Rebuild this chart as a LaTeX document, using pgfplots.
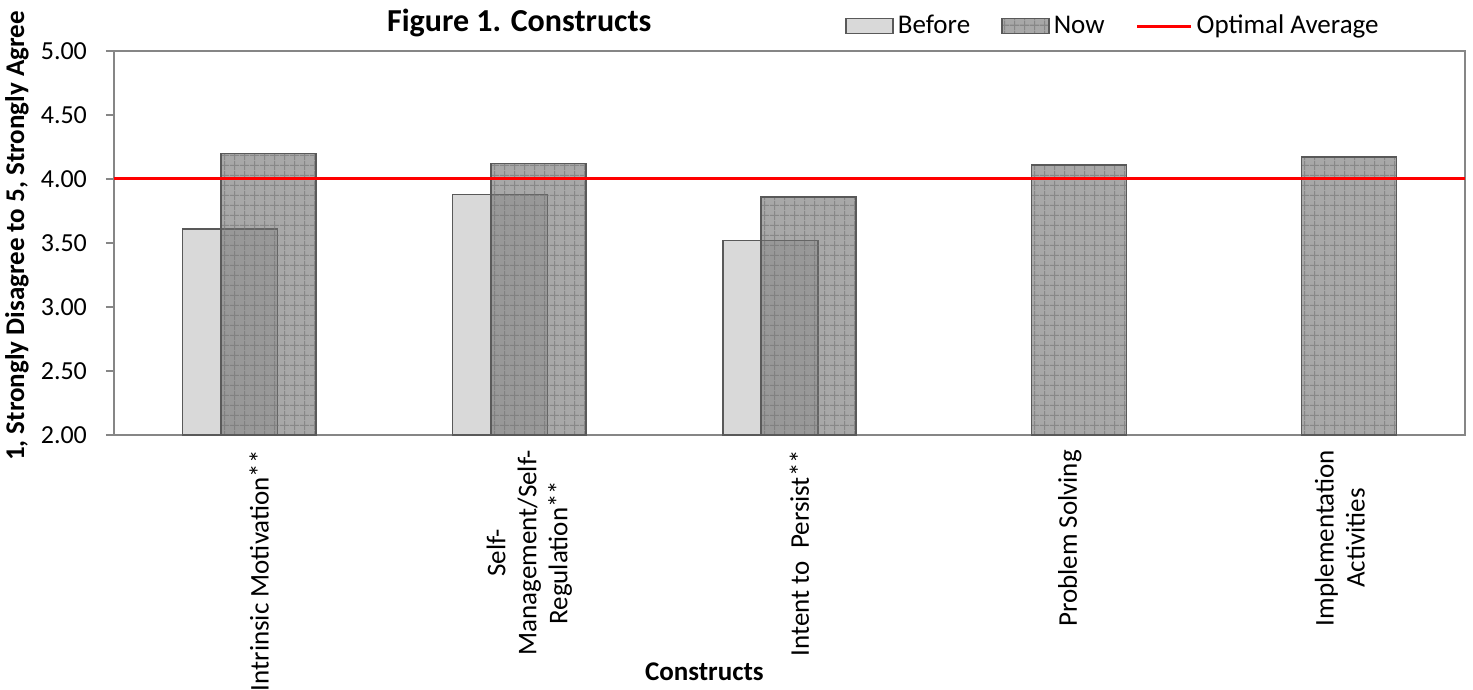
\documentclass[border=0pt]{standalone}
\usepackage{pgfplots}
\pgfplotsset{compat=1.18}
\usepackage{fontspec}
\setmainfont{Carlito}
\usetikzlibrary{patterns}
\definecolor{axgray}{RGB}{134,134,134}
\definecolor{edgegray}{RGB}{89,89,89}
\definecolor{beforefill}{RGB}{217,217,217}
\definecolor{nowfill}{RGB}{110,110,110}
\pgfdeclarepatternformonly{mygrid}{\pgfpointorigin}{\pgfpoint{5pt}{5pt}}{\pgfpoint{5pt}{5pt}}{%
  \pgfsetlinewidth{0.6pt}%
  \pgfpathmoveto{\pgfpoint{0pt}{2.5pt}}\pgfpathlineto{\pgfpoint{5pt}{2.5pt}}%
  \pgfpathmoveto{\pgfpoint{2.5pt}{0pt}}\pgfpathlineto{\pgfpoint{2.5pt}{5pt}}%
  \pgfusepath{stroke}}
\pgfplotsset{
  boxlegend/.style={legend image code/.code={\draw[##1] (0pt,-3.75pt) rectangle (23.5pt,3.75pt);}},
  linelegend/.style={legend image code/.code={\draw[##1] (0pt,0pt) -- (27pt,0pt);}},
}
\begin{document}
\begin{tikzpicture}
\begin{axis}[
  name=ax,
  scale only axis,
  width=675.5pt, height=192pt,
  xmin=-0.5, xmax=4.5, ymin=2, ymax=5,
  axis line style={axgray, line width=0.8pt},
  xtick={0,1,2,3,4},
  xticklabels={Intrinsic Motivation**, Self-\\Management/Self-\\Regulation**, Intent to\ \ Persist**, Problem Solving, Implementation\\Activities},
  xtick style={draw=none},
  xticklabel style={rotate=90, anchor=east, align=center, font=\fontsize{13.5}{15.5}\selectfont, yshift=-5pt},
  ytick={2,2.5,3,3.5,4,4.5,5},
  yticklabel style={font=\fontsize{13}{15}\selectfont, xshift=-6pt, /pgf/number format/.cd, fixed, fixed zerofill, precision=2, assume math mode=true},
  ytick style={axgray, line width=0.8pt},
  tick align=outside,
  major tick length=4pt,
  xtick pos=bottom, ytick pos=left,
  ylabel={\bfseries 1, Strongly Disagree to 5, Strongly Agree},
  ylabel style={at={(axis description cs:-0.0718,0.518)}, anchor=center, font=\fontsize{13.5}{15}\selectfont},
  xlabel={\bfseries Constructs},
  xlabel style={at={(axis description cs:0.437,0)}, anchor=center, yshift=-118.5pt, font=\fontsize{13.5}{15}\selectfont},
  title={\bfseries Figure 1. Constructs},
  title style={at={(axis description cs:0.30,1.041)}, anchor=center, font=\fontsize{16}{18}\selectfont},
  legend columns=3,
  legend style={at={(axis description cs:0.541,1.065)}, anchor=west, draw=none, fill=none, inner sep=0pt,
    font=\fontsize{13.5}{15}\selectfont,
    /tikz/every even column/.append style={column sep=13.5pt}},
]
\addplot[ybar, bar width=0.352, bar shift=0pt, fill=beforefill, draw=edgegray, line width=0.8pt, boxlegend]
  coordinates {(-0.071,3.61) (0.929,3.88) (1.929,3.52)};
\addlegendentry{Before}
\addplot[ybar, bar width=0.352, bar shift=0pt, fill=nowfill, fill opacity=0.6, draw=edgegray, line width=0.8pt,
  postaction={pattern=mygrid, pattern color=black!55}, boxlegend]
  coordinates {(0.071,4.20) (1.071,4.12) (2.071,3.86) (3.071,4.11) (4.071,4.17)};
\addlegendentry{Now}
\addplot[red, line width=1.5pt, linelegend]
  coordinates {(-0.5,4) (4.5,4)};
\addlegendentry{Optimal Average}
\end{axis}
\pgfresetboundingbox
\path ([xshift=-57pt,yshift=-127.5pt]ax.south west) rectangle ([xshift=679.5pt,yshift=217.5pt]ax.south west);
\end{tikzpicture}
\end{document}
